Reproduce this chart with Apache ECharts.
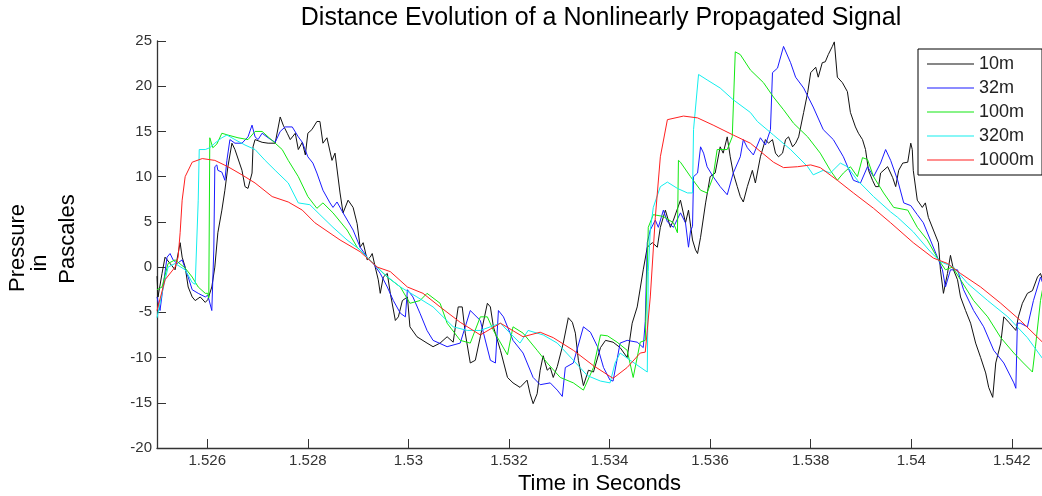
<!DOCTYPE html>
<html>
<head>
<meta charset="utf-8">
<title>Distance Evolution of a Nonlinearly Propagated Signal</title>
<script src="https://cdn.jsdelivr.net/npm/echarts@6/dist/echarts.min.js"></script>
<style>
  html, body { margin: 0; padding: 0; background: #fff; }
  #chart { width: 1042px; height: 496px; }
</style>
</head>
<body>
<div id="chart"></div>
<script>
// series names and tick values
var seriesNames = ['10m', '32m', '100m', '320m', '1000m'];
var xTicks = [1.526, 1.528, 1.530, 1.532, 1.534, 1.536, 1.538, 1.540, 1.542];

// [time in s, pressure in Pa]
var s10m = [
  [1.52500,-1.0],[1.52502,-3.3],[1.52510,-0.7],[1.52516,1.1],[1.52526,0.4],[1.52536,-0.3],
  [1.52546,2.7],[1.52550,1.1],[1.52556,0],[1.52562,-2.2],[1.52570,-3.3],[1.52576,-3.7],
  [1.52586,-3.3],[1.52596,-3.9],[1.52601,-3.6],[1.52609,-2.2],[1.52615,0],[1.52621,3.8],
  [1.52629,6.3],[1.52635,8.5],[1.52641,11.1],[1.52649,13.7],[1.52655,13.0],[1.52669,10.7],
  [1.52675,8.9],[1.52681,8.7],[1.52689,10.4],[1.52691,13.3],[1.52695,14.1],[1.52709,13.8],
  [1.52721,13.7],[1.52735,13.7],[1.52745,16.6],[1.52751,15.7],[1.52759,14.8],[1.52765,14.1],
  [1.52775,14.8],[1.52781,13.0],[1.52789,13.8],[1.52795,12.4],[1.52800,14.8],[1.52808,15.2],
  [1.52818,16.1],[1.52824,16.1],[1.52830,13.7],[1.52838,14.3],[1.52848,11.8],[1.52854,12.6],
  [1.52864,8.2],[1.52870,6.0],[1.52880,7.4],[1.52890,6.6],[1.52898,4.8],[1.52904,2.2],
  [1.52910,2.7],[1.52918,0.8],[1.52924,1.1],[1.52928,1.5],[1.52934,0],[1.52940,-1.4],
  [1.52944,-2.9],[1.52950,-1.1],[1.52958,-0.7],[1.52964,-2.9],[1.52974,-5.9],[1.52980,-5.5],
  [1.52988,-3.7],[1.52998,-3.3],[1.53003,-6.6],[1.53017,-7.7],[1.53037,-8.4],[1.53049,-8.8],
  [1.53063,-8.4],[1.53077,-7.7],[1.53089,-8.3],[1.53099,-4.4],[1.53107,-4.4],[1.53113,-7.3],
  [1.53123,-10.6],[1.53133,-10.3],[1.53143,-7.7],[1.53157,-4.0],[1.53163,-4.4],[1.53169,-6.6],
  [1.53183,-9.2],[1.53197,-12.2],[1.53208,-12.8],[1.53222,-13.3],[1.53236,-12.5],[1.53242,-14.0],
  [1.53248,-15.1],[1.53256,-14.0],[1.53262,-11.4],[1.53268,-9.8],[1.53276,-11.4],[1.53282,-11.1],
  [1.53288,-12.2],[1.53296,-11.0],[1.53308,-8.4],[1.53318,-5.6],[1.53326,-6.1],[1.53332,-7.3],
  [1.53338,-10.3],[1.53348,-13.1],[1.53358,-11.4],[1.53368,-11.6],[1.53382,-8.9],[1.53392,-8.1],
  [1.53407,-8.3],[1.53421,-8.9],[1.53435,-10.0],[1.53445,-6.2],[1.53455,-4.4],[1.53467,-0.3],
  [1.53475,2.2],[1.53485,2.7],[1.53495,2.2],[1.53501,4.4],[1.53511,6.3],[1.53521,4.4],
  [1.53527,5.2],[1.53541,7.4],[1.53551,4.9],[1.53557,6.3],[1.53565,3.0],[1.53571,1.9],
  [1.53575,1.5],[1.53581,3.3],[1.53591,7.1],[1.53600,10.0],[1.53610,10.4],[1.53620,13.3],
  [1.53626,12.6],[1.53634,14.4],[1.53640,12.2],[1.53646,10.4],[1.53654,8.9],[1.53660,7.8],
  [1.53666,7.2],[1.53674,8.9],[1.53684,10.7],[1.53690,9.3],[1.53700,12.2],[1.53710,14.1],
  [1.53716,13.7],[1.53724,14.1],[1.53730,12.6],[1.53736,12.2],[1.53744,12.6],[1.53750,14.1],
  [1.53756,14.4],[1.53764,13.3],[1.53770,13.7],[1.53776,14.4],[1.53786,17.1],[1.53794,19.3],
  [1.53800,21.5],[1.53810,22.1],[1.53815,21.0],[1.53823,22.6],[1.53829,22.7],[1.53835,23.5],
  [1.53843,24.4],[1.53847,24.9],[1.53853,21.0],[1.53863,20.4],[1.53873,19.4],[1.53879,17.1],
  [1.53889,15.5],[1.53895,14.8],[1.53903,14.1],[1.53909,13.0],[1.53915,10.7],[1.53923,9.6],
  [1.53929,8.9],[1.53935,8.9],[1.53939,10.4],[1.53953,11.1],[1.53963,9.9],[1.53969,8.9],
  [1.53975,10.7],[1.53983,11.5],[1.53993,11.6],[1.53999,13.7],[1.54002,13.0],[1.54004,10.7],
  [1.54012,7.4],[1.54022,6.6],[1.54028,7.1],[1.54034,5.5],[1.54044,4.1],[1.54054,2.7],
  [1.54058,-0.3],[1.54064,-2.9],[1.54072,-0.7],[1.54078,1.3],[1.54084,-0.3],[1.54092,-1.4],
  [1.54098,-3.3],[1.54108,-4.8],[1.54118,-6.2],[1.54128,-8.4],[1.54138,-10.0],[1.54148,-11.7],
  [1.54154,-13.3],[1.54162,-14.4],[1.54168,-10.6],[1.54178,-8.4],[1.54184,-5.5],[1.54194,-6.1],
  [1.54208,-7.0],[1.54213,-5.5],[1.54221,-4.0],[1.54231,-2.9],[1.54241,-2.6],[1.54251,-1.1],
  [1.54257,-0.7],[1.54261,-1.4]
];

var s32m = [
  [1.52500,-3.3],[1.52506,-4.8],[1.52512,-2.2],[1.52520,1.1],[1.52526,1.5],[1.52532,0.8],
  [1.52540,0.4],[1.52550,0.8],[1.52562,-1.1],[1.52570,-2.5],[1.52582,-2.9],[1.52596,-3.3],
  [1.52601,-3.1],[1.52609,-4.8],[1.52613,2.0],[1.52615,11.1],[1.52619,11.3],[1.52621,10.7],
  [1.52629,10.5],[1.52635,9.6],[1.52639,11.8],[1.52645,14.1],[1.52655,13.7],[1.52669,13.7],
  [1.52681,14.4],[1.52689,15.7],[1.52695,14.4],[1.52701,14.1],[1.52709,14.8],[1.52721,14.3],
  [1.52735,13.8],[1.52745,15.0],[1.52755,15.5],[1.52769,15.5],[1.52781,14.4],[1.52789,13.8],
  [1.52800,12.2],[1.52810,11.5],[1.52818,10.4],[1.52830,8.5],[1.52844,7.1],[1.52850,6.6],
  [1.52858,7.2],[1.52870,6.0],[1.52890,4.1],[1.52904,2.2],[1.52918,1.1],[1.52930,0.4],
  [1.52944,-0.7],[1.52958,-2.2],[1.52970,-3.7],[1.52984,-5.1],[1.52994,-5.5],[1.52998,-2.5],
  [1.53009,-3.3],[1.53023,-5.1],[1.53037,-7.0],[1.53049,-8.1],[1.53077,-8.8],[1.53103,-8.4],
  [1.53123,-4.8],[1.53143,-5.9],[1.53163,-10.3],[1.53173,-10.6],[1.53179,-4.8],[1.53189,-5.5],
  [1.53208,-8.1],[1.53228,-9.5],[1.53248,-12.2],[1.53262,-13.0],[1.53282,-12.8],[1.53296,-13.6],
  [1.53306,-14.3],[1.53312,-11.1],[1.53328,-10.6],[1.53348,-6.6],[1.53362,-7.2],[1.53376,-8.8],
  [1.53388,-11.1],[1.53401,-12.5],[1.53407,-12.6],[1.53421,-8.4],[1.53435,-8.1],[1.53455,-8.3],
  [1.53467,-8.9],[1.53471,-6.0],[1.53475,2.7],[1.53481,4.1],[1.53491,5.2],[1.53497,4.4],
  [1.53507,6.3],[1.53515,5.0],[1.53527,4.4],[1.53541,6.0],[1.53551,4.9],[1.53557,2.2],
  [1.53561,4.0],[1.53565,4.5],[1.53567,10.0],[1.53575,10.4],[1.53581,13.3],[1.53587,12.6],
  [1.53594,11.1],[1.53606,10.0],[1.53620,8.9],[1.53634,8.0],[1.53646,10.4],[1.53660,12.2],
  [1.53666,14.1],[1.53674,13.2],[1.53686,12.4],[1.53700,14.3],[1.53710,13.5],[1.53720,15.2],
  [1.53724,21.5],[1.53734,22.0],[1.53746,24.4],[1.53760,22.6],[1.53770,21.0],[1.53786,19.8],
  [1.53805,17.7],[1.53825,15.2],[1.53845,14.1],[1.53865,12.2],[1.53885,9.6],[1.53899,9.3],
  [1.53913,11.1],[1.53925,10.0],[1.53939,11.5],[1.53949,13.0],[1.53959,11.8],[1.53973,9.6],
  [1.53985,7.1],[1.53999,6.8],[1.54012,5.8],[1.54024,4.9],[1.54038,3.0],[1.54052,1.1],
  [1.54062,-0.3],[1.54068,-2.2],[1.54078,-0.3],[1.54092,-0.3],[1.54104,-2.5],[1.54124,-4.8],
  [1.54144,-6.6],[1.54164,-9.2],[1.54184,-10.6],[1.54204,-12.8],[1.54208,-13.4],[1.54211,-6.2],
  [1.54217,-6.2],[1.54231,-6.6],[1.54243,-3.7],[1.54257,-1.1],[1.54261,-1.7]
];

var s100m = [
  [1.52500,-2.5],[1.52510,-2.2],[1.52522,0.4],[1.52536,0.8],[1.52556,-0.1],[1.52570,-1.1],
  [1.52582,-2.2],[1.52596,-2.9],[1.52601,-2.9],[1.52603,-3.4],[1.52605,14.3],[1.52611,13.2],
  [1.52619,13.6],[1.52629,14.8],[1.52641,14.6],[1.52661,14.3],[1.52681,14.1],[1.52695,15.0],
  [1.52709,15.0],[1.52735,13.7],[1.52749,13.0],[1.52761,11.8],[1.52781,10.0],[1.52800,7.8],
  [1.52818,6.5],[1.52830,7.1],[1.52850,6.0],[1.52878,4.1],[1.52898,2.2],[1.52918,1.1],
  [1.52938,0],[1.52958,-1.1],[1.52984,-2.2],[1.53003,-4.0],[1.53023,-3.7],[1.53037,-2.9],
  [1.53063,-4.0],[1.53077,-6.2],[1.53103,-8.1],[1.53123,-8.4],[1.53143,-5.5],[1.53157,-5.5],
  [1.53169,-7.0],[1.53197,-9.7],[1.53208,-6.6],[1.53228,-7.3],[1.53256,-9.2],[1.53276,-10.6],
  [1.53302,-12.2],[1.53328,-12.8],[1.53348,-13.6],[1.53368,-11.1],[1.53382,-7.5],[1.53396,-7.6],
  [1.53415,-8.3],[1.53435,-9.2],[1.53447,-12.2],[1.53461,-8.3],[1.53471,-8.1],[1.53475,0],
  [1.53477,4.4],[1.53487,5.8],[1.53507,5.6],[1.53527,4.9],[1.53535,3.8],[1.53537,11.8],
  [1.53541,11.6],[1.53561,10.0],[1.53581,8.5],[1.53594,8.2],[1.53606,10.0],[1.53614,13.0],
  [1.53634,13.0],[1.53644,14.4],[1.53650,23.8],[1.53660,23.5],[1.53680,21.8],[1.53706,20.4],
  [1.53726,18.8],[1.53746,17.4],[1.53766,15.9],[1.53794,14.4],[1.53819,12.6],[1.53839,10.7],
  [1.53853,9.6],[1.53865,10.4],[1.53879,11.1],[1.53893,10.0],[1.53903,12.1],[1.53913,11.9],
  [1.53925,10.0],[1.53945,8.2],[1.53965,6.6],[1.53993,6.3],[1.54012,4.4],[1.54032,3.0],
  [1.54052,1.0],[1.54068,-0.3],[1.54082,0],[1.54098,-1.4],[1.54124,-3.7],[1.54152,-5.5],
  [1.54178,-7.8],[1.54204,-9.5],[1.54223,-10.6],[1.54241,-11.6],[1.54247,-8.8],[1.54257,-3.7],
  [1.54261,-2.5]
];

var s320m = [
  [1.52500,-5.6],[1.52510,-2.9],[1.52522,0],[1.52536,0.4],[1.52556,-0.3],[1.52570,-1.7],
  [1.52576,-1.9],[1.52582,7.4],[1.52584,13.0],[1.52596,13.0],[1.52605,13.2],[1.52615,13.7],
  [1.52629,14.3],[1.52639,14.6],[1.52655,14.1],[1.52675,13.5],[1.52695,13.0],[1.52715,11.8],
  [1.52735,10.7],[1.52761,9.3],[1.52781,7.1],[1.52804,6.9],[1.52824,5.8],[1.52850,4.4],
  [1.52878,3.0],[1.52904,1.9],[1.52930,0.4],[1.52950,-0.7],[1.52984,-2.2],[1.53017,-3.3],
  [1.53049,-4.4],[1.53089,-6.6],[1.53117,-7.0],[1.53143,-7.0],[1.53163,-6.6],[1.53183,-6.2],
  [1.53202,-7.3],[1.53222,-8.4],[1.53238,-7.0],[1.53268,-7.5],[1.53296,-8.4],[1.53328,-10.3],
  [1.53356,-12.0],[1.53382,-12.6],[1.53401,-12.8],[1.53411,-10.6],[1.53421,-9.5],[1.53441,-10.3],
  [1.53475,-11.6],[1.53477,-0.5],[1.53481,4.1],[1.53487,6.6],[1.53501,8.9],[1.53515,9.4],
  [1.53535,8.7],[1.53555,8.2],[1.53565,8.2],[1.53567,15.2],[1.53577,21.3],[1.53594,20.7],
  [1.53620,19.8],[1.53646,18.5],[1.53680,17.1],[1.53694,16.1],[1.53726,14.6],[1.53760,13.0],
  [1.53794,11.1],[1.53805,10.2],[1.53825,10.7],[1.53839,10.4],[1.53859,11.5],[1.53873,11.1],
  [1.53893,9.6],[1.53925,7.8],[1.53959,6.1],[1.53973,5.5],[1.54004,3.9],[1.54038,1.7],
  [1.54058,0.6],[1.54084,0],[1.54112,-1.8],[1.54152,-3.7],[1.54192,-5.5],[1.54231,-7.8],
  [1.54261,-10.1]
];

var s1000m = [
  [1.52500,-4.8],[1.52516,-1.4],[1.52536,0],[1.52542,1.1],[1.52546,3.8],[1.52550,7.4],
  [1.52556,10.0],[1.52570,11.6],[1.52590,12.0],[1.52615,11.8],[1.52641,11.1],[1.52669,10.2],
  [1.52695,9.3],[1.52729,7.8],[1.52761,7.2],[1.52789,6.3],[1.52814,4.9],[1.52864,3.0],
  [1.52904,1.7],[1.52938,0],[1.52964,-0.5],[1.52998,-2.2],[1.53029,-2.9],[1.53063,-4.4],
  [1.53103,-6.1],[1.53143,-7.5],[1.53183,-6.2],[1.53228,-7.7],[1.53262,-7.2],[1.53288,-7.8],
  [1.53328,-9.2],[1.53368,-10.9],[1.53407,-12.3],[1.53435,-11.1],[1.53461,-9.5],[1.53471,-9.4],
  [1.53481,-3.3],[1.53491,5.5],[1.53501,12.2],[1.53515,16.3],[1.53547,16.7],[1.53575,16.5],
  [1.53606,15.7],[1.53646,14.6],[1.53680,13.7],[1.53726,11.6],[1.53746,11.0],[1.53774,11.1],
  [1.53800,11.3],[1.53819,11.0],[1.53853,9.6],[1.53885,8.2],[1.53925,6.5],[1.53959,4.9],
  [1.54004,2.7],[1.54044,1.0],[1.54072,0.4],[1.54098,-0.7],[1.54138,-2.2],[1.54178,-4.0],
  [1.54217,-5.9],[1.54261,-8.3]
];

var seriesData = [s10m, s32m, s100m, s320m, s1000m];
var colorList = ['#111111', '#1a1aff', '#12e812', '#12eeee', '#ff2020'];

var font = 'Liberation Sans, Arial, sans-serif';
var chart = echarts.init(document.getElementById('chart'), null, {renderer: 'canvas'});

var series = [];
var legendItems = [];
for (var i = 0; i < seriesNames.length; i++) {
    series.push({
        name: seriesNames[i],
        type: 'line',
        data: seriesData[i],
        symbol: 'none',
        showSymbol: false,
        lineStyle: {color: colorList[i], width: 1},
        itemStyle: {color: colorList[i]}
    });
    // plain line as legend key
    legendItems.push({name: seriesNames[i], icon: 'rect'});
}

var option = {
    backgroundColor: '#fff',
    animation: false,
    title: {
        text: 'Distance Evolution of a Nonlinearly Propagated Signal',
        left: 601,
        top: 6,
        padding: 0,
        textAlign: 'center',
        textStyle: {fontFamily: font, fontSize: 25, fontWeight: 'normal', color: '#000'}
    },
    legend: {
        data: legendItems,
        orient: 'vertical',
        left: 918,
        top: 49,
        itemWidth: 47,
        itemHeight: 1,
        itemGap: 6,
        padding: [6, 8, 6, 9],
        borderColor: '#000',
        borderWidth: 1,
        backgroundColor: '#fff',
        textStyle: {fontFamily: font, fontSize: 18, color: '#222'}
    },
    grid: {left: 157, right: 0, top: 41, bottom: 48, outerBoundsMode: 'none'},
    xAxis: {
        type: 'value',
        min: 1.525,
        max: 1.5426,
        name: 'Time in Seconds',
        nameLocation: 'middle',
        nameGap: 22,
        nameTextStyle: {fontFamily: font, fontSize: 22, color: '#000'},
        axisLine: {onZero: false, lineStyle: {color: '#333', width: 1.3}},
        axisTick: {inside: true, length: 9, customValues: xTicks, lineStyle: {color: '#333'}},
        axisLabel: {
            customValues: xTicks,
            margin: 5,
            fontFamily: font,
            fontSize: 15,
            color: '#333',
            formatter: function(v) { return String(+v.toFixed(3)); }
        },
        splitLine: {show: false}
    },
    yAxis: {
        type: 'value',
        min: -20,
        max: 25,
        interval: 5,
        axisLine: {show: true, onZero: false, lineStyle: {color: '#333', width: 1.3}},
        axisTick: {show: true, inside: true, length: 9, lineStyle: {color: '#333'}},
        axisLabel: {margin: 5, fontFamily: font, fontSize: 15, color: '#333'},
        splitLine: {show: false}
    },
    graphic: [
        {type: 'text', x: 18, y: 248, rotation: Math.PI / 2,
         style: {text: 'Pressure', font: '22px ' + font, fill: '#000', align: 'center', verticalAlign: 'middle'}},
        {type: 'text', x: 40, y: 263, rotation: Math.PI / 2,
         style: {text: 'in', font: '22px ' + font, fill: '#000', align: 'center', verticalAlign: 'middle'}},
        {type: 'text', x: 68, y: 239, rotation: Math.PI / 2,
         style: {text: 'Pascales', font: '22px ' + font, fill: '#000', align: 'center', verticalAlign: 'middle'}}
    ],
    series: series
};

chart.setOption(option);
</script>
</body>
</html>
